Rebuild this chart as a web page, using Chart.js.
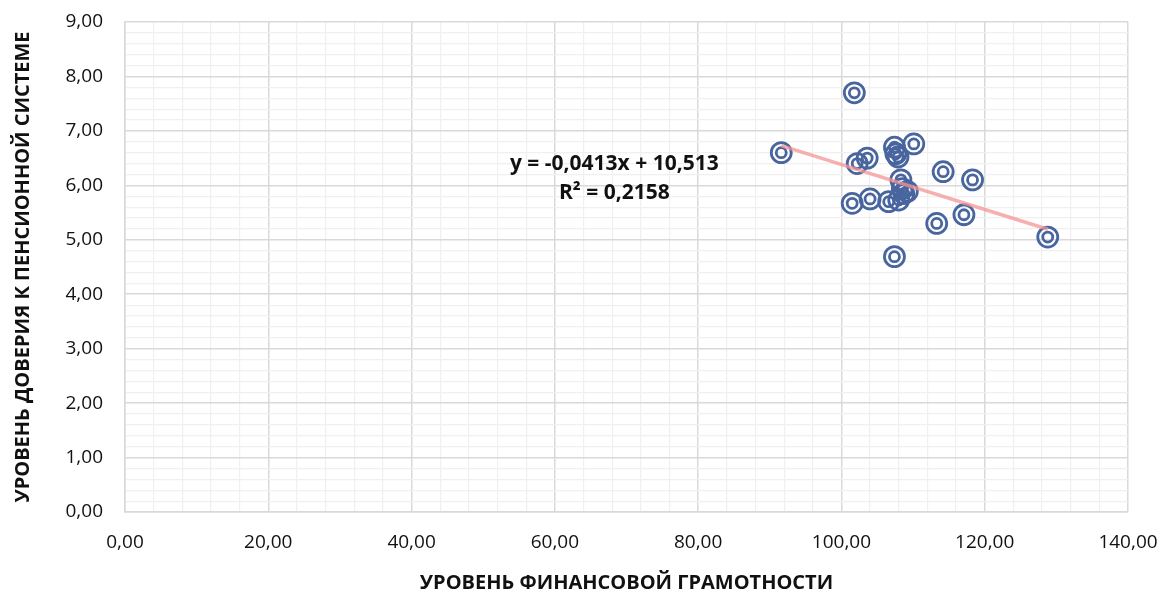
<!DOCTYPE html>
<html>
<head>
<meta charset="utf-8">
<script src="https://cdn.jsdelivr.net/npm/chart.js@4.4.1/dist/chart.umd.min.js"></script>
<style>
  html, body { margin: 0; padding: 0; background: #fff; }
  #wrap { width: 1164px; height: 607px; }
</style>
</head>
<body>
<div id="wrap"><canvas id="chart" width="1164" height="607"></canvas></div>
<script>
// financial literacy (x) vs trust in the pension system (y), one point per region
const literacy = [101.8, 91.6, 102.2, 103.6, 107.4, 107.6, 107.9, 110.1, 114.2, 118.3, 108.3,
                  108.5, 108.7, 109.2, 108.0, 101.5, 104.0, 106.6, 113.3, 117.1, 128.8, 107.4];
const trust    = [7.70, 6.60, 6.40, 6.50, 6.70, 6.58, 6.52, 6.76, 6.25, 6.10, 6.10,
                  5.94, 5.85, 5.89, 5.73, 5.67, 5.75, 5.70, 5.30, 5.46, 5.05, 4.69];

// linear trend as printed on the chart
const trendSlope = -0.0413;
const trendIntercept = 10.513;
const trendR2 = 0.2158;

const xTitle = 'УРОВЕНЬ ФИНАНСОВОЙ ГРАМОТНОСТИ';
const yTitle = 'УРОВЕНЬ ДОВЕРИЯ К ПЕНСИОННОЙ СИСТЕМЕ';

const fmt = (v, d) => v.toFixed(d).replace('.', ',');

const points = literacy.map((x, i) => ({ x, y: trust[i] }));
const xMin = Math.min(...literacy), xMax = Math.max(...literacy);
const trendPoints = [xMin, xMax].map(x => ({ x, y: trendSlope * x + trendIntercept }));

const markerColor = '#48659f';
const tickFont = { family: 'Open Sans', size: 19 };
const titleFont = { family: 'Open Sans', size: 20, weight: 'bold' };

const isMajor = (v, step) => Math.abs(v / step - Math.round(v / step)) < 1e-6;

// equation label, anchored in data units
const trendLabel = {
  id: 'trendLabel',
  afterDatasetsDraw(chart) {
    const { ctx, scales: { x, y } } = chart;
    const cx = x.getPixelForValue(68.3);
    ctx.save();
    ctx.font = 'bold 21px "Open Sans"';
    ctx.fillStyle = '#111';
    ctx.textAlign = 'center';
    ctx.textBaseline = 'middle';
    const sign = trendIntercept >= 0 ? ' + ' : ' - ';
    ctx.fillText('y = ' + fmt(trendSlope, 4) + 'x' + sign + fmt(Math.abs(trendIntercept), 3), cx, y.getPixelForValue(6.40));
    ctx.fillText('R² = ' + fmt(trendR2, 4), cx, y.getPixelForValue(5.86));
    ctx.restore();
  }
};

new Chart(document.getElementById('chart'), {
  type: 'scatter',
  data: {
    datasets: [
      {
        type: 'line',
        data: trendPoints,
        borderColor: 'rgba(244,150,150,0.75)',
        borderWidth: 3.5,
        pointRadius: 0,
        fill: false,
        order: 0
      },
      {
        data: points,
        pointRadius: 10,
        borderWidth: 2.8,
        borderColor: markerColor,
        backgroundColor: 'transparent',
        order: 1
      },
      {
        data: points,
        pointRadius: 5,
        borderWidth: 2.8,
        borderColor: markerColor,
        backgroundColor: 'transparent',
        order: 1
      }
    ]
  },
  options: {
    responsive: false,
    animation: false,
    events: [],
    layout: { padding: { top: 22, right: 36, left: 0, bottom: 0 } },
    plugins: { legend: { display: false }, tooltip: { enabled: false } },
    scales: {
      x: {
        type: 'linear',
        min: 0,
        max: 140,
        // fixed band under the plot; edge labels may hang into the side padding
        afterFit: s => { s.height = 95; s.paddingLeft = 0; s.paddingRight = 0; },
        border: { color: '#d9d9d9', width: 1.5 },
        grid: {
          drawTicks: false,
          color: c => isMajor(c.tick.value, 20) ? '#d9d9d9' : '#f0f0f0',
          lineWidth: c => isMajor(c.tick.value, 20) ? 1.5 : 1.2
        },
        ticks: {
          stepSize: 4,
          autoSkip: false,
          maxRotation: 0,
          padding: 19,
          color: '#111',
          font: tickFont,
          callback: v => isMajor(v, 20) ? fmt(v, 2) : ''
        },
        title: { display: true, text: xTitle, color: '#111', font: titleFont, padding: { top: 0, bottom: 12 } }
      },
      y: {
        min: 0,
        max: 9,
        afterFit: s => { s.width = 125; s.paddingTop = 0; s.paddingBottom = 0; },
        border: { color: '#d9d9d9', width: 1.5 },
        grid: {
          drawTicks: false,
          color: c => isMajor(c.tick.value, 1) ? '#d9d9d9' : '#f0f0f0',
          lineWidth: c => isMajor(c.tick.value, 1) ? 1.5 : 1.2
        },
        ticks: {
          stepSize: 0.2,
          autoSkip: false,
          padding: 22,
          color: '#111',
          font: tickFont,
          callback: v => isMajor(v, 1) ? fmt(v, 2) : ''
        },
        title: { display: true, text: yTitle, color: '#111', font: titleFont, padding: { top: 11, bottom: 0 } }
      }
    }
  },
  plugins: [trendLabel]
});
</script>
</body>
</html>
